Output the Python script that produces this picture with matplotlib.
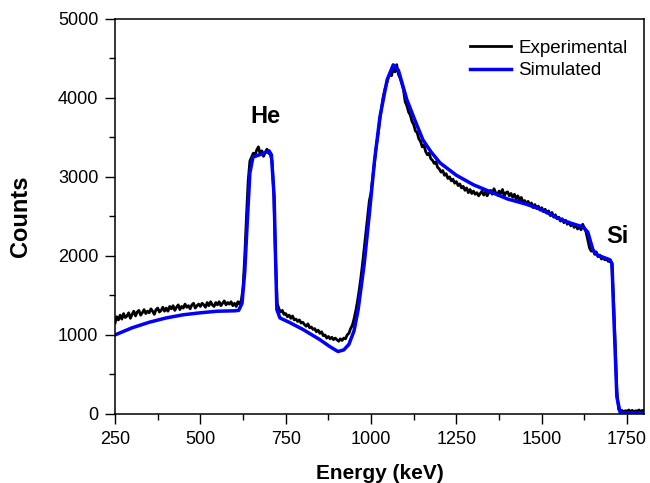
import numpy as np
import matplotlib.pyplot as plt

plt.rcParams['font.family'] = ['Liberation Sans', 'DejaVu Sans']

# ==== experimental spectrum, one value per 5 keV step (250 ... 1800 keV)
exp_energy = np.arange(250, 1801, 5)
exp_counts = [
    1150, 1230, 1190, 1250, 1200, 1270, 1220, 1240, 1280, 1210,  # 250
    1260, 1300, 1240, 1290, 1310, 1250, 1280, 1320, 1270, 1300,  # 300
    1280, 1330, 1300, 1260, 1320, 1340, 1290, 1310, 1350, 1300,  # 350
    1340, 1300, 1360, 1330, 1370, 1310, 1350, 1380, 1320, 1360,  # 400
    1340, 1390, 1350, 1370, 1330, 1380, 1400, 1340, 1370, 1390,  # 450
    1360, 1400, 1380, 1350, 1410, 1370, 1420, 1380, 1360, 1410,  # 500
    1380, 1420, 1370, 1400, 1430, 1380, 1410, 1390, 1420, 1370,  # 550
    1400, 1360, 1420, 1390, 1440, 1600, 2000, 2500, 2950, 3200,  # 600
    3250, 3300, 3270, 3340, 3380, 3290, 3330, 3260, 3310, 3350,  # 650
    3300, 3280, 3200, 2800, 2000, 1400, 1330, 1290, 1310, 1260,  # 700
    1270, 1230, 1250, 1210, 1240, 1190, 1200, 1170, 1190, 1150,  # 750
    1160, 1130, 1110, 1140, 1090, 1100, 1070, 1080, 1040, 1060,  # 800
    1020, 1040, 990, 1000, 960, 980, 950, 970, 940, 960,         # 850
    940, 920, 950, 930, 960, 950, 1000, 1020, 1080, 1120,        # 900
    1200, 1300, 1420, 1560, 1720, 1900, 2100, 2300, 2500, 2700,  # 950
    2800, 3000, 3180, 3380, 3520, 3700, 3850, 4000, 4100, 4170,  # 1000
    4250, 4310, 4280, 4380, 4330, 4420, 4300, 4250, 4180, 4100,  # 1050
    3950, 3900, 3820, 3780, 3700, 3660, 3580, 3560, 3480, 3450,  # 1100
    3380, 3400, 3320, 3280, 3300, 3230, 3210, 3170, 3190, 3120,  # 1150
    3100, 3060, 3080, 3020, 3040, 2980, 3000, 2950, 2970, 2920,  # 1200
    2940, 2890, 2910, 2860, 2880, 2830, 2860, 2800, 2840, 2790,  # 1250
    2820, 2780, 2800, 2760, 2790, 2820, 2770, 2810, 2760, 2800,  # 1300
    2830, 2780, 2850, 2800, 2770, 2820, 2790, 2840, 2760, 2800,  # 1350
    2810, 2760, 2790, 2740, 2780, 2720, 2760, 2700, 2740, 2680,  # 1400
    2700, 2660, 2690, 2640, 2670, 2610, 2650, 2600, 2630, 2580,  # 1450
    2610, 2560, 2590, 2540, 2570, 2510, 2550, 2490, 2520, 2470,  # 1500
    2490, 2440, 2470, 2420, 2450, 2400, 2430, 2380, 2410, 2360,  # 1550
    2390, 2340, 2380, 2330, 2400, 2350, 2300, 2200, 2100, 2060,  # 1600
    2080, 2020, 2050, 1990, 2010, 1960, 1980, 1950, 1960, 1930,  # 1650
    1940, 1900, 1500, 900, 300, 60, 30, 45, 25, 40,              # 1700
    35, 50, 30, 45, 25, 40, 35, 50, 30, 45,                      # 1750
    40]

# ==== simulated spectrum
sim_energy = [250, 300, 350, 400, 450, 500, 550, 600, 612, 622,
              630, 637, 645, 654, 680, 701, 708, 716, 720, 724,
              733, 760, 800, 850, 880, 903, 920, 935, 950, 962,
              980, 997, 1010, 1026, 1047, 1065, 1080, 1105, 1130, 1152,
              1175, 1202, 1250, 1300, 1350, 1400, 1450, 1486, 1520, 1545,
              1580, 1621, 1635, 1650, 1662, 1700, 1706, 1709, 1715, 1720,
              1730, 1800]
sim_counts = [1000, 1090, 1160, 1215, 1255, 1280, 1300, 1305, 1310, 1400,
              1800, 2400, 3050, 3250, 3290, 3330, 3280, 2750, 2000, 1320,
              1215, 1160, 1070, 940, 850, 790, 810, 880, 1050, 1316,
              1900, 2620, 3200, 3760, 4228, 4418, 4350, 3975, 3700, 3468,
              3320, 3177, 3020, 2900, 2810, 2720, 2660, 2608, 2540, 2481,
              2420, 2367, 2300, 2076, 2013, 1950, 1900, 1481, 800, 215,
              13, 10]

fig = plt.figure(figsize=(6.5, 4.83), dpi=100)
ax = fig.add_axes([0.177, 0.143, 0.814, 0.818])

ax.plot(exp_energy, exp_counts, color='black', lw=2.0, label='Experimental')
ax.plot(sim_energy, sim_counts, color='#0000ff', lw=2.5, label='Simulated')

ax.text(690, 3770, 'He', fontsize=17, fontweight='bold', ha='center', va='center')
ax.text(1722, 2250, 'Si', fontsize=17, fontweight='bold', ha='center', va='center')

ax.set_xlim(250, 1800)
ax.set_ylim(0, 5000)
ax.set_xticks(np.arange(250, 1801, 250))
ax.set_xticks(np.arange(375, 1800, 250), minor=True)
ax.set_yticks(np.arange(0, 5001, 1000))
ax.set_yticks(np.arange(500, 5000, 1000), minor=True)

ax.tick_params(which='major', direction='out', length=7, width=1, labelsize=13, pad=5)
ax.tick_params(which='minor', direction='out', length=4, width=1)
for s in ax.spines.values():
    s.set_linewidth(1.1)

ax.set_xlabel('Energy (keV)', fontsize=15, fontweight='bold', labelpad=12)
ax.set_ylabel('Counts', fontsize=17, fontweight='bold', labelpad=19)

ax.legend(loc='upper right', bbox_to_anchor=(1.008, 1.0), frameon=False,
          fontsize=13.5, handlelength=2.2, handletextpad=0.4,
          labelspacing=0.3, borderaxespad=0.7)

fig.savefig('out.png', dpi=100)
